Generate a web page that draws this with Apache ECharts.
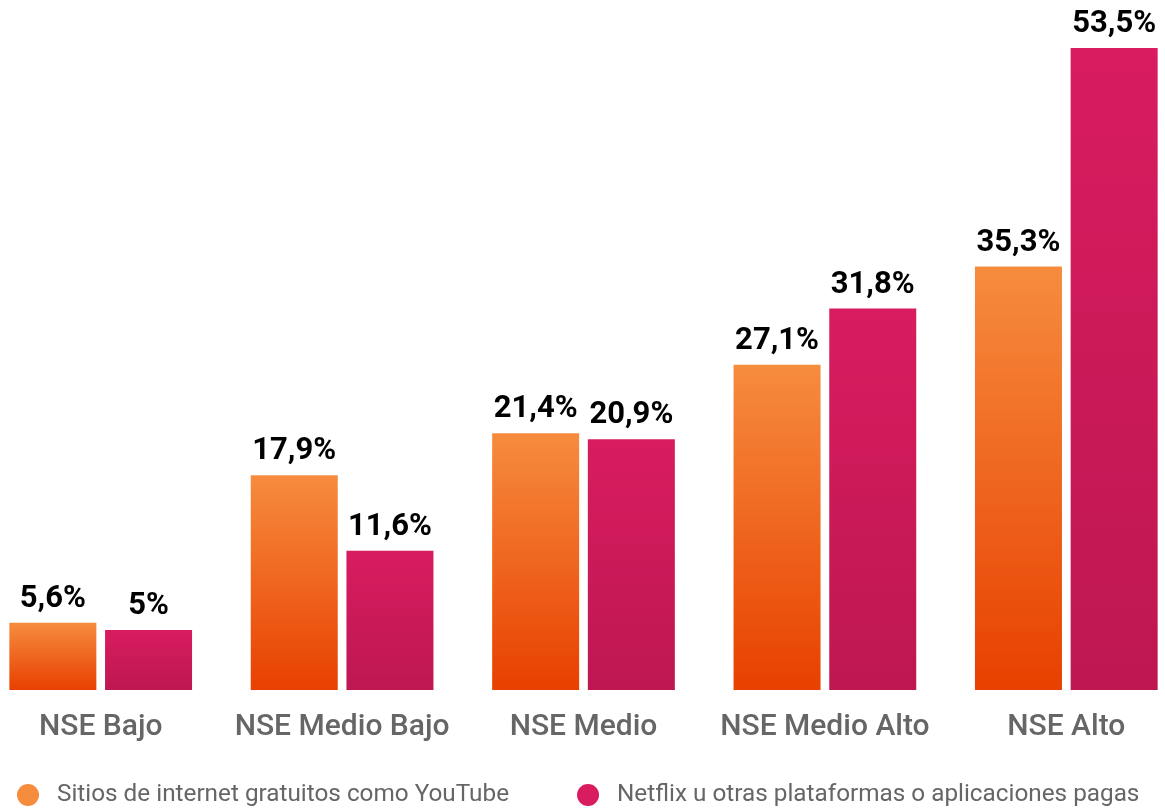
<!DOCTYPE html>
<html>
<head>
    <meta charset="utf-8">
    <script src="https://cdn.jsdelivr.net/npm/echarts@6/dist/echarts.min.js"></script>
    <style>
        html, body { margin: 0; padding: 0; background: #fff; overflow: hidden; }
    </style>
</head>
<body>
<!-- el gráfico sobresale un poco a los lados, como en el original -->
<div id="main" style="position: absolute; left: -20px; top: 0; width: 1207px; height: 808px;"></div>

<script type="text/javascript">
    // categorías y valores (%)
    var categorias = ['NSE Bajo', 'NSE Medio Bajo', 'NSE Medio', 'NSE Medio Alto', 'NSE Alto'];
    var gratuitos = [5.6, 17.9, 21.4, 27.1, 35.3];
    var pagas = [5, 11.6, 20.9, 31.8, 53.5];
    var nombres = ['Sitios de internet gratuitos como YouTube', 'Netflix u otras plataformas o aplicaciones pagas'];

    var myChart = echarts.init(document.getElementById('main'));

    function formatoPct(p) {
        return String(p.value).replace('.', ',') + '%';
    }

    function degradado(arriba, abajo) {
        return new echarts.graphic.LinearGradient(0, 0, 0, 1, [
            { offset: 0, color: arriba },
            { offset: 1, color: abajo }
        ]);
    }

    var etiqueta = {
        show: true,
        position: 'top',
        distance: 8,
        formatter: formatoPct,
        color: '#000',
        fontFamily: 'Roboto',
        fontWeight: 'bold',
        fontSize: 31
    };

    myChart.setOption({
        animation: false,
        legend: {
            bottom: 1,
            left: 37,
            padding: 0,
            itemGap: 68,
            icon: 'circle',
            itemWidth: 22,
            itemHeight: 22,
            textStyle: { fontFamily: 'Roboto', fontSize: 24.3, color: '#666', padding: [0, 0, 0, 13] },
            data: [
                { name: nombres[0], itemStyle: { color: '#F68C3E' } },
                { name: nombres[1], itemStyle: { color: '#D81C5F' } }
            ]
        },
        grid: { left: 0, right: 0, top: 30, bottom: 118 },
        xAxis: {
            type: 'category',
            data: categorias,
            axisLine: { show: false },
            axisTick: { show: false },
            axisLabel: {
                interval: 0,
                margin: 22,
                fontFamily: 'Roboto',
                fontWeight: 500,
                fontSize: 30,
                color: '#666'
            }
        },
        yAxis: {
            type: 'value',
            min: 0,
            max: 55,
            show: false,
            splitLine: { show: false }
        },
        series: [
            {
                name: nombres[0],
                type: 'bar',
                data: gratuitos,
                barWidth: 87,
                barGap: '10%',
                itemStyle: { color: degradado('#F68C3E', '#E84000') },
                label: etiqueta
            },
            {
                name: nombres[1],
                type: 'bar',
                data: pagas,
                barWidth: 87,
                itemStyle: { color: degradado('#D81C5F', '#BE1752') },
                label: etiqueta
            }
        ]
    });
</script>
</body>
</html>
